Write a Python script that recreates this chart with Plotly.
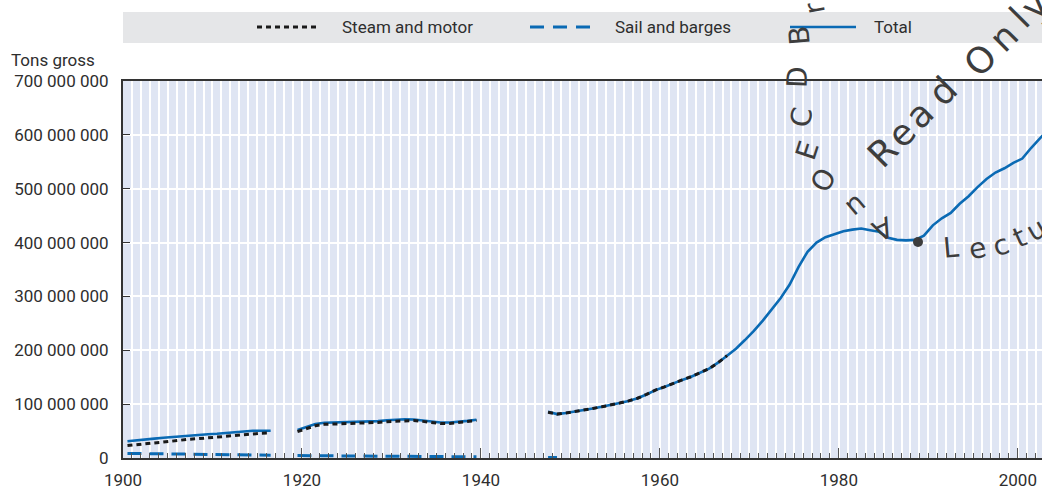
import plotly.graph_objects as go

# ---- data (millions of gross tons) ----
years_a = list(range(1901, 1918))
total_a = [31, 33, 34.5, 36, 37.5, 39, 40.5, 42, 43, 44, 45, 46.5, 48, 49.5, 50.5, 50.5, 50.5]
steam_a = [23, 25, 26.5, 28, 29.5, 31.5, 33, 35, 36, 37.5, 38.5, 40, 42, 44, 45.5, 46, 46.5]
sail_a = [8.5, 8.3, 8.1, 7.9, 7.7, 7.5, 7.3, 7.1, 6.9, 6.7, 6.5, 6.3, 6.1, 5.9, 5.7, 5.5, 5.3]

years_b = list(range(1920, 1941))
total_b = [52, 58, 63, 65.5, 66, 66, 66, 66.5, 67, 68.5, 70, 71, 72, 71.5, 70, 67.5, 66, 66, 67, 69, 71]
steam_b = [49, 55, 60, 62.5, 63, 63, 63.5, 64, 64.5, 66, 67.5, 68.5, 69.5, 69.5, 68, 65.5, 64, 64, 65.5, 67.5, 69.5]
sail_b = [4.5, 4.4, 4.3, 4.2, 4.1, 4.0, 3.9, 3.8, 3.6, 3.5, 3.4, 3.2, 3.0, 2.9, 2.8, 2.7, 2.6, 2.5, 2.4, 2.3, 2.2]

years_c = list(range(1948, 2005))
total_c = [86, 81.5, 83.5, 86, 88.5, 92, 95, 98, 102, 106, 111, 118, 126, 132, 139, 145, 151, 158, 166, 177,
           190, 203, 219, 236, 255, 275, 297, 322, 355, 383, 400, 410, 416, 421, 424, 426, 423, 420, 409, 405,
           404, 405, 413, 432, 445, 455, 472, 486, 503, 518, 530, 538, 548, 556, 576, 595, 612]
years_steam_c = list(range(1948, 1969))
steam_c = [85, 81.5, 83.5, 86, 88.5, 92, 95, 98, 102, 106, 111, 118, 126, 132, 139, 145, 151, 158, 166, 177, 190]
years_sail_c = [1948, 1949]
sail_c = [1.0, 0.9]

BLUE = "#0a6ab4"
FONT = "Roboto, Liberation Sans, sans-serif"
TXT = "#2e2e2e"

# plot area in pixels (for placing layout decorations)
L, R, T, B = 123, 1042, 81, 458


def px(x):
    return (x - L) / (R - L)


def py(y):
    return (B - y) / (B - T)


def join(*pieces):
    xs, ys = [], []
    for yrs, vals in pieces:
        if xs:
            xs.append(None)
            ys.append(None)
        # points sit at the start of each year's column
        xs += [y - 0.5 for y in yrs]
        ys += [v * 1e6 for v in vals]
    return xs, ys


fig = go.Figure()

tx, ty = join((years_a, total_a), (years_b, total_b), (years_c, total_c))
fig.add_trace(go.Scatter(x=tx, y=ty, mode="lines", name="Total",
                         line=dict(color=BLUE, width=2.6), connectgaps=False))

sx, sy = join((years_a, steam_a), (years_b, steam_b), (years_steam_c, steam_c))
fig.add_trace(go.Scatter(x=sx, y=sy, mode="lines", name="Steam and motor",
                         line=dict(color="#1a1a1a", width=3, dash="5px,4px"), connectgaps=False))

bx, by = join((years_a, sail_a), (years_b, sail_b), (years_sail_c, sail_c))
fig.add_trace(go.Scatter(x=bx, y=by, mode="lines", name="Sail and barges",
                         line=dict(color=BLUE, width=3, dash="14px,8px"), connectgaps=False))

shapes = [
    # legend band
    dict(type="rect", xref="paper", yref="paper", x0=0, x1=1, y0=py(43), y1=py(12),
         fillcolor="#e5e6e8", line_width=0, layer="below"),
    dict(type="line", xref="paper", yref="paper", x0=px(257), x1=px(318), y0=py(27), y1=py(27),
         line=dict(color="#1a1a1a", width=3, dash="5px,4px")),
    dict(type="line", xref="paper", yref="paper", x0=px(530), x1=px(597), y0=py(27), y1=py(27),
         line=dict(color=BLUE, width=3, dash="14px,9px")),
    dict(type="line", xref="paper", yref="paper", x0=px(790), x1=px(856), y0=py(27), y1=py(27),
         line=dict(color=BLUE, width=2.6)),
]

annotations = [
    dict(text="Steam and motor", x=px(340), y=py(27)),
    dict(text="Sail and barges", x=px(613), y=py(27)),
    dict(text="Total", x=px(872), y=py(27)),
    dict(text="Tons gross", x=px(9), y=py(60)),
]
for a in annotations:
    a.update(xref="paper", yref="paper", xanchor="left", yanchor="middle", showarrow=False,
             font=dict(family=FONT, size=17, color=TXT))

# watermark letters
WM = [
    ("r", 815, 8, -100, 28), ("B", 800, 36, -95, 28), ("D", 797, 77, -88, 28),
    ("C", 802, 117, -80, 28), ("E", 807, 150, -72, 28), ("O", 823, 180, -60, 28),
    ("u", 857, 207, 140, 28), ("A", 883, 228, 155, 28),
    ("R", 882, 152, -45, 36), ("e", 901, 133, -45, 36), ("a", 919, 114, -45, 36),
    ("d", 942, 91, -45, 36),
    ("O", 980, 60, -45, 36), ("n", 1003, 37, -45, 36), ("l", 1020, 18, -45, 36),
    ("y", 1034, 6, -45, 36),
    ("L", 951, 247, -5, 28), ("e", 977, 249, -10, 28), ("c", 1000, 245, -18, 28),
    ("t", 1019, 237, -24, 28), ("u", 1036, 229, -30, 28),
]
for ch, x, y, ang, size in WM:
    annotations.append(dict(text=ch, x=px(x), y=py(y), xref="paper", yref="paper",
                            showarrow=False, textangle=ang, xanchor="center", yanchor="middle",
                            font=dict(family="DejaVu Sans, sans-serif", size=size, color="#3d3d3d")))
shapes.append(dict(type="circle", xref="paper", yref="paper",
                   x0=px(913), x1=px(923), y0=py(247), y1=py(237),
                   fillcolor="#3d3d3d", line_width=0))

fig.update_layout(
    width=1042,
    height=489,
    margin=dict(l=L, r=1042 - R, t=T, b=489 - B),
    paper_bgcolor="white",
    plot_bgcolor="#dfe5f3",
    showlegend=False,
    separators=". ",
    font=dict(family=FONT, size=17, color=TXT),
    shapes=shapes,
    annotations=annotations,
)
fig.update_xaxes(
    range=[1900, 2002.7],
    tick0=1900, dtick=20,
    ticks="inside", ticklen=10, tickcolor="#555555",
    showgrid=True, gridcolor="white", gridwidth=1.5,
    minor=dict(dtick=1, ticks="inside", ticklen=5, tickcolor="#555555",
               showgrid=True, gridcolor="white", gridwidth=1.5),
    showline=True, linecolor="#333333", linewidth=2, mirror=True,
    zeroline=False,
    ticklabelstandoff=6,
    tickfont=dict(family=FONT, size=17, color=TXT),
)
fig.update_yaxes(
    range=[0, 700e6],
    dtick=100e6,
    tickformat=",d",
    ticks="inside", ticklen=7, tickcolor="#333333",
    showgrid=True, gridcolor="white", gridwidth=1.5,
    showline=True, linecolor="#333333", linewidth=2,
    zeroline=False,
    ticklabelstandoff=9,
    tickfont=dict(family=FONT, size=17, color=TXT),
)

# drop the page's default body margin so the figure sits at the window's corner
fig.write_html("out.html", config={"displayModeBar": False},
               post_script="document.body.style.margin='0';")
